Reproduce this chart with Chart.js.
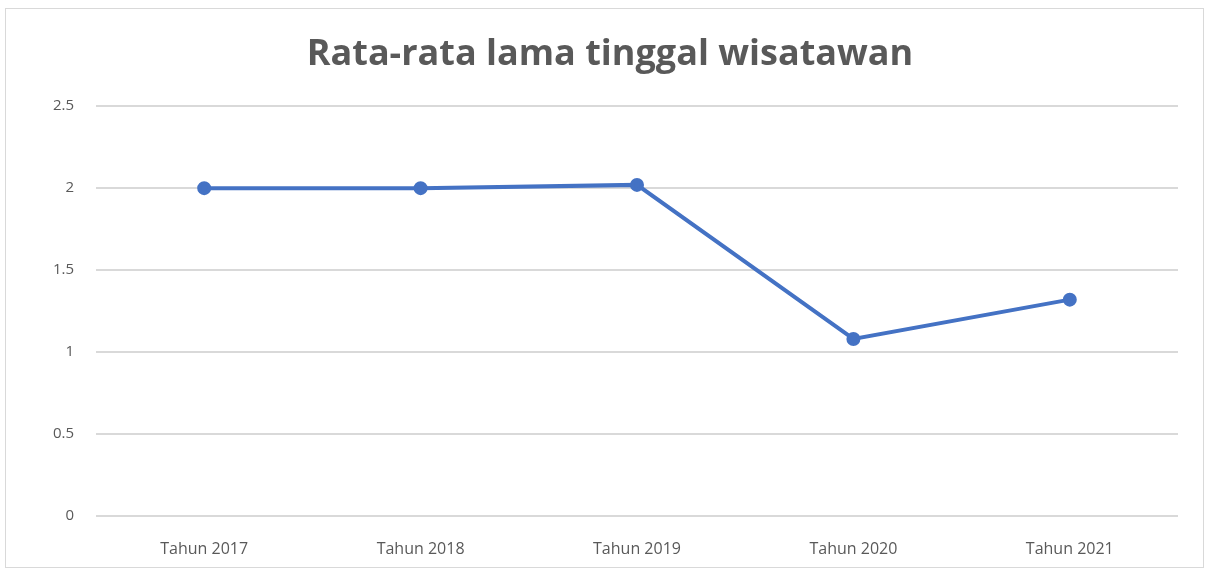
<!DOCTYPE html>
<html>
<head>
<meta charset="utf-8">
<script src="https://cdn.jsdelivr.net/npm/chart.js@4"></script>
<style>
  html, body { margin: 0; padding: 0; background: #fff; }
  #wrap { position: absolute; left: 5px; top: 8px; width: 1199px; height: 560px; border: 1px solid #d9d9d9; box-sizing: border-box; }
  #frame { position: absolute; left: 0; top: 0; width: 1210px; height: 574px; }
</style>
</head>
<body>
<div id="wrap"></div>
<div id="frame"><canvas id="ChartLama"></canvas></div>
<script>
// Rata-rata lama tinggal (hari)
const categories = ["Tahun 2017", "Tahun 2018", "Tahun 2019", "Tahun 2020", "Tahun 2021"];
const lamaTinggal = [2.0, 2.0, 2.02, 1.08, 1.32];
const yTicks = [0, 0.5, 1, 1.5, 2, 2.5];

const ctx = document.getElementById("ChartLama");
new Chart(ctx, {
  type: "line",
  data: {
    labels: categories,
    datasets: [{
      label: "Rata-rata lama tinggal wisatawan",
      data: lamaTinggal,
      borderColor: "#4472c4",
      backgroundColor: "#4472c4",
      borderWidth: 4,
      pointRadius: 5,
      pointHoverRadius: 6,
      tension: 0
    }]
  },
  options: {
    responsive: true,
    maintainAspectRatio: false,
    animation: false,
    layout: { padding: { top: 33, right: 32, bottom: 2, left: 42 } },
    plugins: {
      legend: { display: false },
      title: {
        display: true,
        text: "Rata-rata lama tinggal wisatawan",
        color: "#595959",
        font: { family: "Open Sans", size: 36, weight: "bold" },
        padding: { top: 0, bottom: 30 }
      }
    },
    scales: {
      x: {
        offset: true,
        afterFit: (axis) => { axis.height = 56; },
        grid: { display: false, drawTicks: false },
        border: { display: false },
        ticks: {
          color: "#595959",
          padding: 24,
          font: { family: "Open Sans", size: 16 }
        }
      },
      y: {
        min: 0,
        max: 2.5,
        afterBuildTicks: (axis) => { axis.ticks = yTicks.map(v => ({ value: v })); },
        afterFit: (axis) => { axis.width = 54; },
        grid: { color: "#d9d9d9", lineWidth: 2, drawTicks: false },
        border: { display: false },
        ticks: {
          color: "#595959",
          padding: 22,
          font: { family: "Open Sans", size: 15 },
          callback: (value) => String(value)
        }
      }
    }
  }
});
</script>
</body>
</html>
